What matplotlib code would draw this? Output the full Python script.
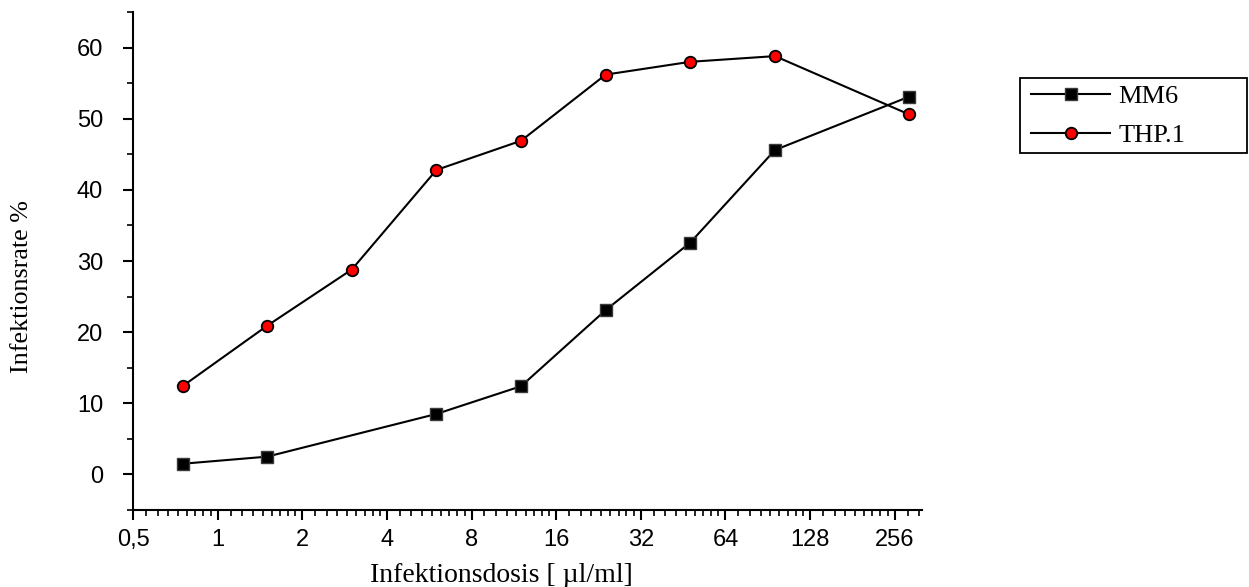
import matplotlib
matplotlib.use("Agg")
import matplotlib.pyplot as plt
from matplotlib.ticker import FixedLocator, FixedFormatter, MultipleLocator
from matplotlib.patches import Rectangle

# Infection dose (µl/ml) and infection rate (%) for both cell lines
dose_mm6 = [0.75, 1.5, 6, 12, 24, 48, 96, 288]
rate_mm6 = [1.5, 2.5, 8.5, 12.4, 23.1, 32.6, 45.6, 53.1]

dose_thp1 = [0.75, 1.5, 3, 6, 12, 24, 48, 96, 288]
rate_thp1 = [12.4, 20.9, 28.8, 42.8, 46.9, 56.2, 58.0, 58.8, 50.6]

x_ticks = [0.5, 1, 2, 4, 8, 16, 32, 64, 128, 256]
x_tick_labels = ["0,5", "1", "2", "4", "8", "16", "32", "64", "128", "256"]
y_ticks = [0, 10, 20, 30, 40, 50, 60]

SANS = ["Liberation Sans", "DejaVu Sans"]
SERIF = ["Liberation Serif", "DejaVu Serif"]

fig = plt.figure(figsize=(12.49, 5.87), dpi=100)
W, H = 1249, 587
ax = fig.add_axes([133 / W, 77 / H, (922 - 133) / W, (510 - 12) / H])

ax.plot(dose_mm6, rate_mm6, color="black", lw=1.5, marker="s", ms=8.0,
        mfc="black", mec="#3a3a3a", mew=1.0, label="MM6", zorder=3)
ax.plot(dose_thp1, rate_thp1, color="black", lw=1.5, marker="o", ms=8.3,
        mfc="#ff0000", mec="black", mew=1.3, label="THP.1", zorder=4)

ax.set_xscale("log", base=2)
ax.set_xlim(0.5, 320)
ax.set_ylim(-5, 65)

minor = []
for b in x_ticks:
    for k in range(1, 9):
        v = b * (1 + k / 9)
        if v < 320:
            minor.append(v)
ax.xaxis.set_major_locator(FixedLocator(x_ticks))
ax.xaxis.set_major_formatter(FixedFormatter(x_tick_labels))
ax.xaxis.set_minor_locator(FixedLocator(minor))
ax.xaxis.set_minor_formatter(FixedFormatter([]))

ax.yaxis.set_major_locator(FixedLocator(y_ticks))
ax.yaxis.set_minor_locator(MultipleLocator(5))

for s in ("top", "right"):
    ax.spines[s].set_visible(False)
for s in ("left", "bottom"):
    ax.spines[s].set_linewidth(1.5)

ax.tick_params(which="major", direction="out", length=7.5, width=1.5,
               labelsize=17, labelfontfamily=SANS)
ax.tick_params(which="minor", direction="out", length=4.5, width=1.2)
ax.tick_params(axis="y", which="major", pad=14)
ax.tick_params(axis="x", which="major", pad=6)

fig.text(501 / W, 1 - 575 / H, "Infektionsdosis [ µl/ml]", family=SERIF,
         fontsize=20, ha="center", va="center")
fig.text(22 / W, 1 - 287 / H, "Infektionsrate %", family=SERIF,
         fontsize=18.7, ha="center", va="center", rotation=90)

# Legend box
fig.patches.append(Rectangle((1020 / W, 1 - 153 / H), (1247 - 1020) / W,
                             (153 - 78) / H, transform=fig.transFigure,
                             fill=False, edgecolor="black", lw=1.3))
leg = fig.legend(loc="upper left", bbox_to_anchor=(1031 / W, 1 - 85 / H),
                 frameon=False, handlelength=3.0, handletextpad=0.3,
                 labelspacing=0.57, borderaxespad=0, borderpad=0,
                 prop={"family": SERIF, "size": 19})

fig.savefig("out.png", dpi=100)
